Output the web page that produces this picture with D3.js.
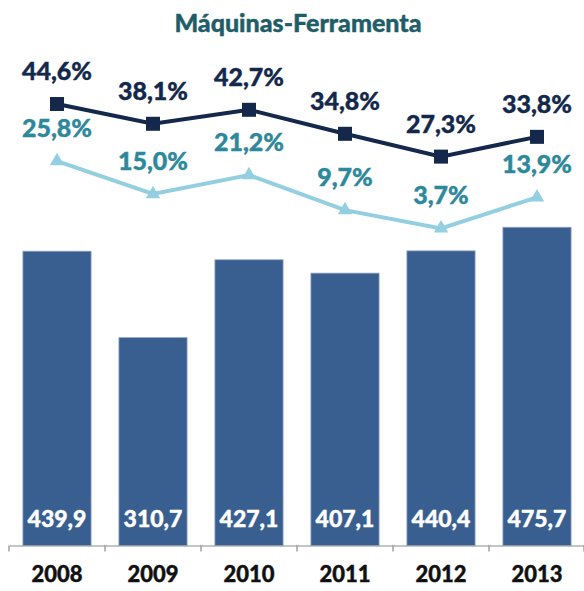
<!DOCTYPE html>
<html>
<head>
<meta charset="utf-8">
<script src="https://cdn.jsdelivr.net/npm/d3@7"></script>
<style>
  html, body { margin: 0; padding: 0; background: #fff; }
  svg { display: block; }
  text { font-family: Lato, "Open Sans", sans-serif; font-weight: 900; }
</style>
</head>
<body>
<svg id="chart" width="584" height="591"></svg>
<script>
const title = "Máquinas-Ferramenta";
const years = ["2008", "2009", "2010", "2011", "2012", "2013"];
const barValues = [439.9, 310.7, 427.1, 407.1, 440.4, 475.7];
const barLabels = ["439,9", "310,7", "427,1", "407,1", "440,4", "475,7"];
const darkValues = [44.6, 38.1, 42.7, 34.8, 27.3, 33.8];
const darkLabels = ["44,6%", "38,1%", "42,7%", "34,8%", "27,3%", "33,8%"];
const lightValues = [25.8, 15.0, 21.2, 9.7, 3.7, 13.9];
const lightLabels = ["25,8%", "15,0%", "21,2%", "9,7%", "3,7%", "13,9%"];

const svg = d3.select("#chart");
const axisY = 545.5;

const xBand = d3.scaleBand().domain(years).range([9, 585]).padding(0);
const xBar = d3.scaleBand().domain(years).range([9, 585]).paddingInner(0.29).paddingOuter(0.145);
const yBar = d3.scaleLinear().domain([0, 500]).range([axisY, axisY - 334.5]);
const yPct = d3.scaleLinear().domain([0, 50]).range([239.6, 87.6]);
const cx = d => xBand(d) + xBand.bandwidth() / 2;

function thick(sel, color, w) {
  sel.attr("fill", color).attr("stroke", color).attr("stroke-width", w)
     .attr("stroke-linejoin", "round");
}

// Title
svg.append("text")
  .attr("x", 298).attr("y", 32)
  .attr("text-anchor", "middle")
  .call(thick, "#1f5d69", 0.4)
  .style("font-size", "25px")
  .text(title);

// Bars
svg.append("g").selectAll("rect")
  .data(years)
  .join("rect")
  .attr("x", d => xBar(d))
  .attr("width", xBar.bandwidth())
  .attr("y", (d, i) => yBar(barValues[i]))
  .attr("height", (d, i) => axisY - yBar(barValues[i]))
  .attr("fill", "#395f90")
  .attr("stroke", "#8ea3c2")
  .attr("stroke-width", 0.8);

// Bar labels
svg.append("g").selectAll("text")
  .data(years)
  .join("text")
  .attr("x", d => cx(d))
  .attr("y", 527)
  .attr("text-anchor", "middle")
  .call(thick, "#ffffff", 0.4)
  .style("font-size", "23px")
  .text((d, i) => barLabels[i]);

// Axis
const axis = d3.axisBottom(xBand).tickValues([]).tickSizeOuter(0);
const ag = svg.append("g").attr("transform", `translate(0,${axisY})`).call(axis);
ag.select(".domain").attr("stroke", "#8c8c8c").attr("stroke-width", 1.2);
const bounds = years.map(d => xBand(d)).concat([xBand.range()[1] - 1]);
ag.selectAll("line.tk").data(bounds).join("line")
  .attr("class", "tk")
  .attr("x1", d => d).attr("x2", d => d)
  .attr("y1", 0).attr("y2", 6)
  .attr("stroke", "#8c8c8c").attr("stroke-width", 1.2);

// Year labels
svg.append("g").selectAll("text")
  .data(years)
  .join("text")
  .attr("x", d => cx(d))
  .attr("y", 582)
  .attr("text-anchor", "middle")
  .call(thick, "#111111", 0.4)
  .style("font-size", "22px")
  .text(d => d);

// Light line
const lineLight = d3.line().x((d, i) => cx(years[i])).y(d => yPct(d));
svg.append("path")
  .datum(lightValues)
  .attr("d", lineLight)
  .attr("fill", "none")
  .attr("stroke", "#93cfe0")
  .attr("stroke-width", 4);
svg.append("g").selectAll("path")
  .data(lightValues)
  .join("path")
  .attr("transform", (d, i) => `translate(${cx(years[i])},${yPct(d)})`)
  .attr("d", d3.symbol(d3.symbolTriangle, 90))
  .attr("fill", "#93cfe0");
svg.append("g").selectAll("text")
  .data(lightValues)
  .join("text")
  .attr("x", (d, i) => cx(years[i]))
  .attr("y", d => yPct(d) - 24)
  .attr("text-anchor", "middle")
  .call(thick, "#2e889b", 0.4)
  .style("font-size", "25px")
  .text((d, i) => lightLabels[i]);

// Dark line
const lineDark = d3.line().x((d, i) => cx(years[i])).y(d => yPct(d));
svg.append("path")
  .datum(darkValues)
  .attr("d", lineDark)
  .attr("fill", "none")
  .attr("stroke", "#13284a")
  .attr("stroke-width", 4);
svg.append("g").selectAll("rect")
  .data(darkValues)
  .join("rect")
  .attr("x", (d, i) => cx(years[i]) - 7)
  .attr("y", d => yPct(d) - 7)
  .attr("width", 14).attr("height", 14)
  .attr("fill", "#13284a");
svg.append("g").selectAll("text")
  .data(darkValues)
  .join("text")
  .attr("x", (d, i) => cx(years[i]))
  .attr("y", d => yPct(d) - 24)
  .attr("text-anchor", "middle")
  .call(thick, "#13284a", 0.4)
  .style("font-size", "25px")
  .text((d, i) => darkLabels[i]);
</script>
</body>
</html>
